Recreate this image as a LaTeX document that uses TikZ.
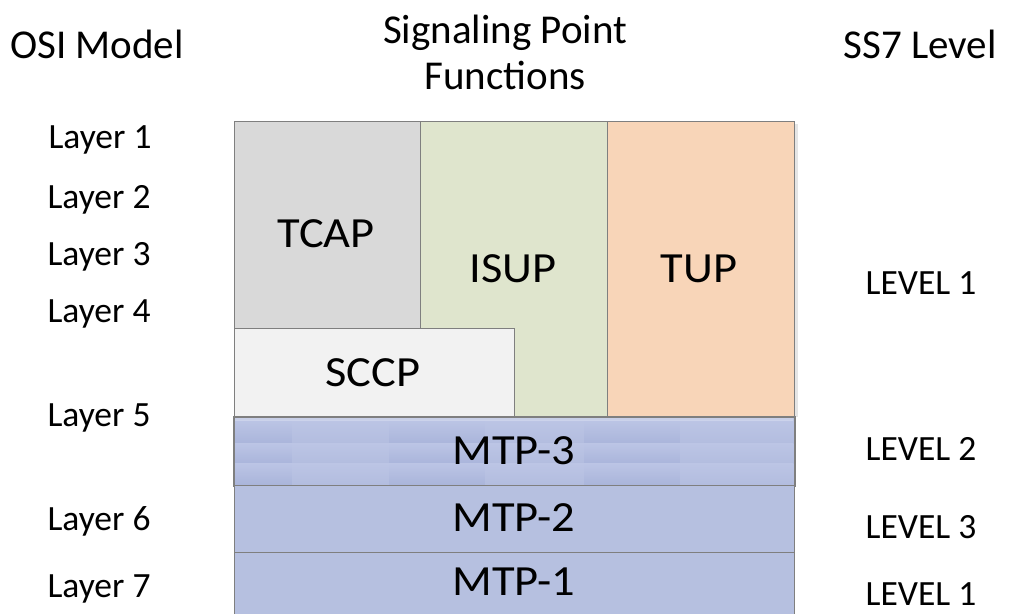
\documentclass[tikz,border=0pt]{standalone}
\usepackage{fontspec}
\setmainfont{Carlito}
\newcommand{\wide}[1]{\scalebox{1.08}[1]{#1}}
\begin{document}
\begin{tikzpicture}[x=1pt,y=-1pt,
  box/.style={draw=edgegray, line width=1.2pt, inner sep=0pt, anchor=north west},
  big/.style={font=\fontsize{43}{51}\selectfont, text height=27pt, text depth=0pt, inner sep=0pt},
  side/.style={font=\fontsize{35.5}{42}\selectfont, text height=22.4pt, text depth=0pt, inner sep=0pt},
  head/.style={font=\fontsize{41}{49}\selectfont, align=center, inner sep=0pt},
  shadowfill/.style={draw=none, fill=black, fill opacity=0.10}
]
\definecolor{edgegray}{HTML}{7F7F7F}
\definecolor{tcapc}{HTML}{D9D9D9}
\definecolor{isupc}{HTML}{DFE5CD}
\definecolor{tupc}{HTML}{F8D5B8}
\definecolor{sccpc}{HTML}{F2F2F2}
\definecolor{mtpc}{HTML}{B6C0E0}
\definecolor{mtpdark}{HTML}{AAB5DB}
\definecolor{mtplight}{HTML}{B3BDDF}
\definecolor{mtptop}{HTML}{BCC5E5}
\useasboundingbox (0,0) rectangle (1009,613);
\fill[white] (0,0) rectangle (1009,613);

% headers
\node[head, text height=26pt, text depth=0pt] (osi) at (97,45.5) {OSI Model};
\node[head] (spf) at (505,52) {Signaling Point\\[-3pt]Functions};
\node[head, text height=26pt, text depth=0pt] (ss7) at (920,45.5) {SS7 Level};

% faint shadows
\fill[shadowfill] (794,124) rectangle (798,417);
\fill[shadowfill] (514,331) rectangle (518,417);

% upper boxes
\node[box, fill=tcapc, minimum width=186pt, minimum height=207pt] (tcap) at (234,121) {};
\node[box, fill=isupc, minimum width=187pt, minimum height=296pt] (isup) at (420,121) {};
\node[box, fill=tupc, minimum width=187pt, minimum height=296pt] (tup) at (607,121) {};
\node[box, fill=sccpc, minimum width=280pt, minimum height=89pt] (sccp) at (234,328) {};

\node[big] (tcapt) at (326,234) {\wide{TCAP}};
\node[big] (isupt) at (513,268.5) {\wide{ISUP}};
\node[big] (tupt) at (699,268.5) {\wide{TUP}};
\node[big] (sccpt) at (373,373) {\wide{SCCP}};

% MTP-3 with tiled texture
\node[box, fill=mtpc, minimum width=560pt, minimum height=68pt] (mtp3) at (234,417) {};
\begin{scope}
\clip (234.6,417.6) rectangle (793.4,484.4);
\foreach \xa/\xb/\k in {234/292/0,292/389/1,389/485/0,485/584/1,584/680/0,680/779/1,779/794/1}{
  \foreach \ya/\yb in {420/443,443/463,463/484}{
    \ifnum\k=0
      \shade[top color=mtptop, bottom color=mtpdark] (\xa,\ya) rectangle (\xb,\yb);
    \else
      \shade[top color=mtptop, bottom color=mtplight] (\xa,\ya) rectangle (\xb,\yb);
    \fi
  }
}
\fill[white, opacity=0.25] (234,417) rectangle (794,421);
\end{scope}
\draw[edgegray, line width=1.2pt] (mtp3.north west) rectangle (mtp3.south east);
\node[big] (mtp3t) at (514,450.5) {\wide{MTP-3}};

\node[box, fill=mtpc, minimum width=560pt, minimum height=67pt] (mtp2) at (234,485) {};
\node[big] (mtp2t) at (514,518) {\wide{MTP-2}};

\begin{scope}
\clip (0,0) rectangle (1009,613);
\node[box, fill=mtpc, minimum width=560pt, minimum height=70pt] (mtp1) at (234,552) {};
\end{scope}
\node[big] (mtp1t) at (514,582) {\wide{MTP-1}};

% OSI layers
\node[side] (l1) at (100,137.5) {Layer 1};
\node[side] (l2) at (99,197) {Layer 2};
\node[side] (l3) at (99,254) {Layer 3};
\node[side] (l4) at (99,311) {Layer 4};
\node[side] (l5) at (99,415) {Layer 5};
\node[side] (l6) at (99,519) {Layer 6};
\node[side] (l7) at (99,586) {Layer 7};

% SS7 levels
\node[side] (v1) at (921,283) {LEVEL 1};
\node[side] (v2) at (921,449) {LEVEL 2};
\node[side] (v3) at (921,527) {LEVEL 3};
\node[side] (v4) at (921,594) {LEVEL 1};
\end{tikzpicture}
\end{document}
